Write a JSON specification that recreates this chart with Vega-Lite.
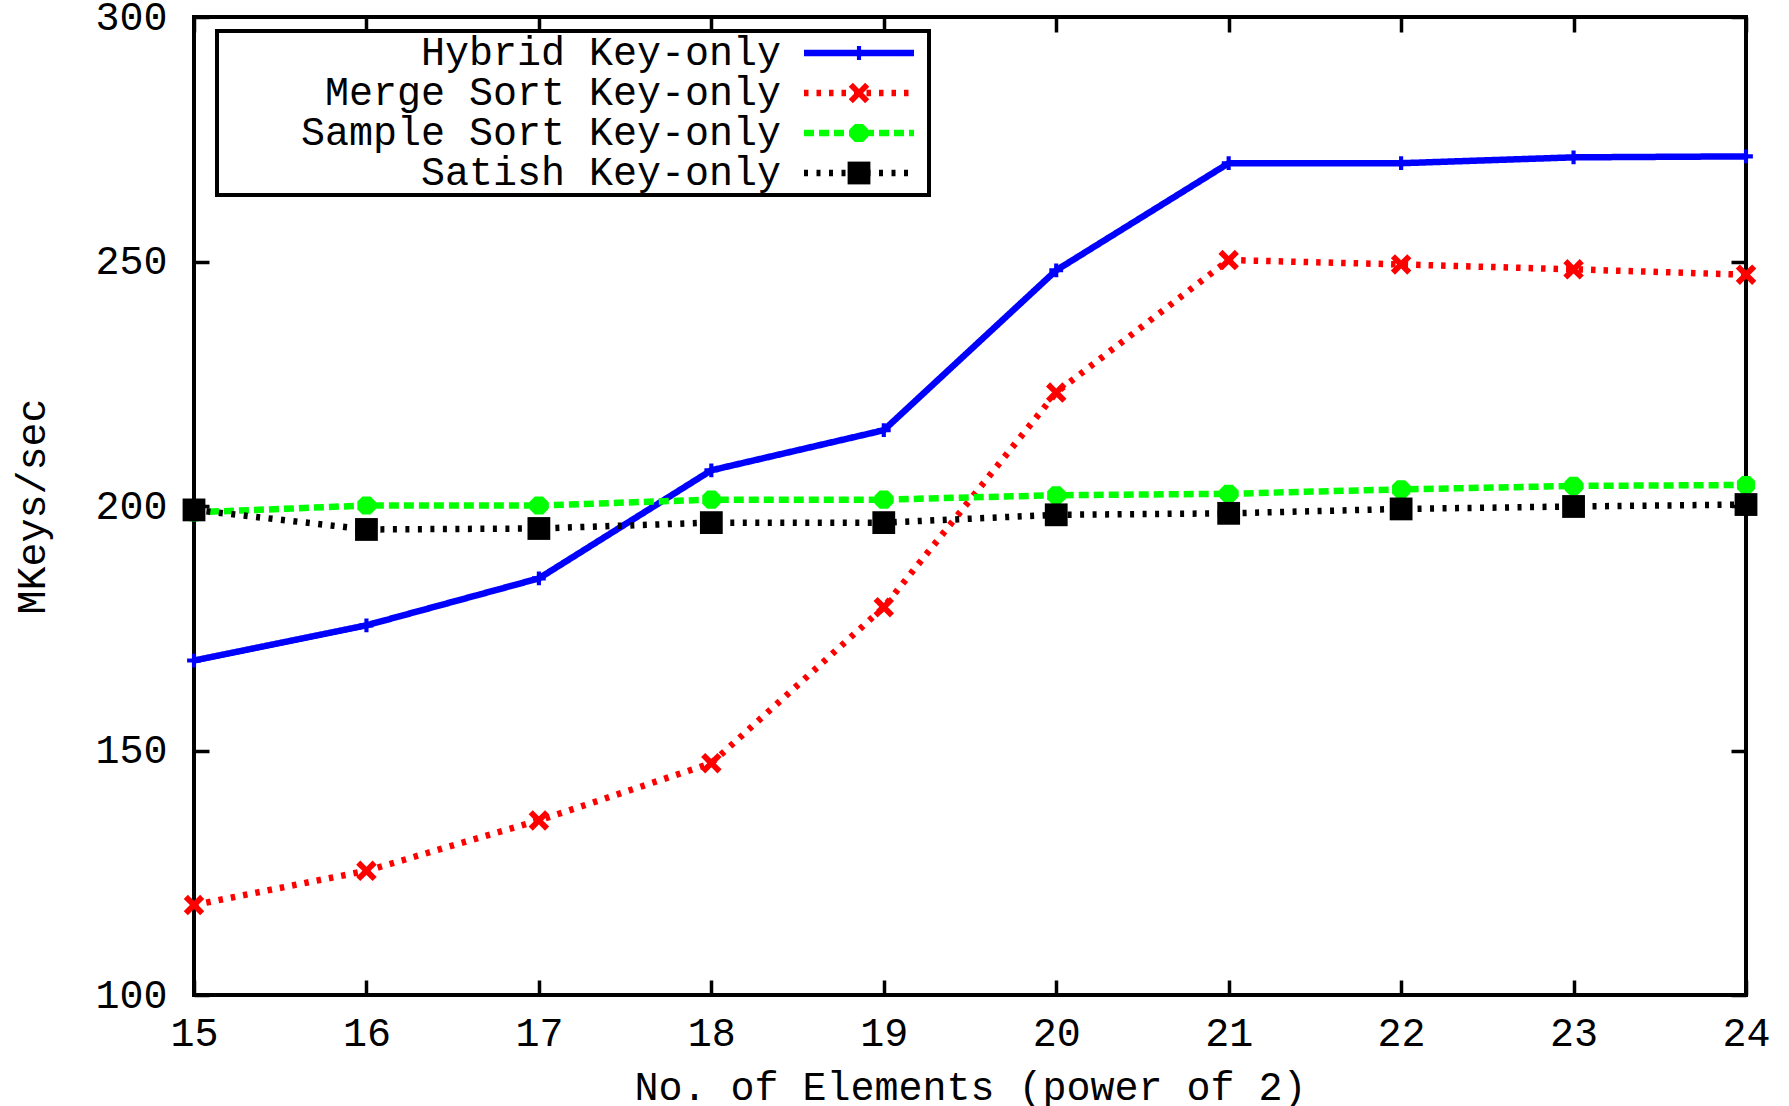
{
  "$schema": "https://vega.github.io/schema/vega-lite/v6.json",
  "width": 1552,
  "height": 978,
  "autosize": {"type": "none"},
  "padding": {"left": 194, "top": 17, "right": 43, "bottom": 111},
  "background": "white",
  "config": {
    "view": {"stroke": "black", "strokeWidth": 4},
    "font": "Liberation Mono",
    "axis": {"labelFont": "Liberation Mono", "titleFont": "Liberation Mono", "labelFontSize": 40, "titleFontSize": 40, "titleFontWeight": "normal", "labelColor": "black", "titleColor": "black", "grid": false, "domain": false, "tickColor": "black", "tickWidth": 3.5, "tickSize": -15, "labelFlush": false},
    "legend": {"labelFont": "Liberation Mono", "labelFontSize": 40, "labelColor": "black", "labelLimit": 0}
  },
  "data": {"values": [
    {"x": 15, "series": "Hybrid Key-only", "v": 168.4},
    {"x": 16, "series": "Hybrid Key-only", "v": 175.6},
    {"x": 17, "series": "Hybrid Key-only", "v": 185.2},
    {"x": 18, "series": "Hybrid Key-only", "v": 207.3},
    {"x": 19, "series": "Hybrid Key-only", "v": 215.5},
    {"x": 20, "series": "Hybrid Key-only", "v": 248.2},
    {"x": 21, "series": "Hybrid Key-only", "v": 270.1},
    {"x": 22, "series": "Hybrid Key-only", "v": 270.1},
    {"x": 23, "series": "Hybrid Key-only", "v": 271.3},
    {"x": 24, "series": "Hybrid Key-only", "v": 271.5},
    {"x": 15, "series": "Merge Sort Key-only", "v": 118.4},
    {"x": 16, "series": "Merge Sort Key-only", "v": 125.4},
    {"x": 17, "series": "Merge Sort Key-only", "v": 135.7},
    {"x": 18, "series": "Merge Sort Key-only", "v": 147.4},
    {"x": 19, "series": "Merge Sort Key-only", "v": 179.3},
    {"x": 20, "series": "Merge Sort Key-only", "v": 223.2},
    {"x": 21, "series": "Merge Sort Key-only", "v": 250.3},
    {"x": 22, "series": "Merge Sort Key-only", "v": 249.4},
    {"x": 23, "series": "Merge Sort Key-only", "v": 248.4},
    {"x": 24, "series": "Merge Sort Key-only", "v": 247.3},
    {"x": 15, "series": "Sample Sort Key-only", "v": 198.7},
    {"x": 16, "series": "Sample Sort Key-only", "v": 200.1},
    {"x": 17, "series": "Sample Sort Key-only", "v": 200.1},
    {"x": 18, "series": "Sample Sort Key-only", "v": 201.3},
    {"x": 19, "series": "Sample Sort Key-only", "v": 201.3},
    {"x": 20, "series": "Sample Sort Key-only", "v": 202.2},
    {"x": 21, "series": "Sample Sort Key-only", "v": 202.5},
    {"x": 22, "series": "Sample Sort Key-only", "v": 203.4},
    {"x": 23, "series": "Sample Sort Key-only", "v": 204.1},
    {"x": 24, "series": "Sample Sort Key-only", "v": 204.3},
    {"x": 15, "series": "Satish Key-only", "v": 199.2},
    {"x": 16, "series": "Satish Key-only", "v": 195.2},
    {"x": 17, "series": "Satish Key-only", "v": 195.4},
    {"x": 18, "series": "Satish Key-only", "v": 196.6},
    {"x": 19, "series": "Satish Key-only", "v": 196.6},
    {"x": 20, "series": "Satish Key-only", "v": 198.2},
    {"x": 21, "series": "Satish Key-only", "v": 198.5},
    {"x": 22, "series": "Satish Key-only", "v": 199.4},
    {"x": 23, "series": "Satish Key-only", "v": 199.9},
    {"x": 24, "series": "Satish Key-only", "v": 200.3}
  ]},
  "layer": [
    {
      "mark": {"type": "line", "strokeWidth": 6.5, "clip": false},
      "encoding": {
        "x": {"field": "x", "type": "quantitative", "scale": {"domain": [15, 24], "nice": false, "zero": false}, "axis": {"orient": "bottom", "title": "No. of Elements (power of 2)", "values": [15,16,17,18,19,20,21,22,23,24], "format": "d", "labelPadding": 33, "titlePadding": 14}},
        "y": {"field": "v", "type": "quantitative", "scale": {"domain": [100, 300], "nice": false, "zero": false}, "axis": {"orient": "left", "title": "MKeys/sec", "values": [100,150,200,250,300], "labelPadding": 42, "titlePadding": 42}},
        "color": {"field": "series", "type": "nominal", "sort": ["Hybrid Key-only", "Merge Sort Key-only", "Sample Sort Key-only", "Satish Key-only"], "scale": {"domain": ["Hybrid Key-only", "Merge Sort Key-only", "Sample Sort Key-only", "Satish Key-only"], "range": ["#0000ff", "#ff0000", "#00ff00", "#000000"]},
          "legend": {"title": null, "orient": "none", "legendX": 23, "legendY": 14, "zindex": 0, "symbolType": "M-5,0L5,0", "symbolSize": 484, "symbolStrokeWidth": 6.5, "labelAlign": "right", "labelOffset": -98, "symbolOffset": 620, "rowPadding": -13, "padding": 2, "strokeColor": "black", "fillColor": "white",
            "encode": {"legend": {"update": {"strokeWidth": {"value": 4}}}}}},
        "strokeDash": {"field": "series", "type": "nominal", "scale": {"domain": ["Hybrid Key-only", "Merge Sort Key-only", "Sample Sort Key-only", "Satish Key-only"], "range": [[1, 0], [4.5, 8], [10, 5], [4, 8.5]]}, "legend": {"title": null}}
      }
    },
    {
      "mark": {"type": "point", "filled": true, "opacity": 1, "clip": false, "strokeWidth": 0},
      "encoding": {
        "x": {"field": "x", "type": "quantitative", "axis": {"orient": "top", "title": null, "labels": false, "values": [15,16,17,18,19,20,21,22,23,24]}},
        "y": {"field": "v", "type": "quantitative", "axis": {"orient": "right", "title": null, "labels": false, "values": [100,150,200,250,300]}},
        "fill": {"field": "series", "type": "nominal", "scale": {"domain": ["Merge Sort Key-only", "Hybrid Key-only", "Sample Sort Key-only", "Satish Key-only"], "range": ["#ff0000", "#0000ff", "#00ff00", "#000000"]},
          "legend": {"title": null, "orient": "none", "legendX": 23, "legendY": 14, "zindex": 1, "values": ["Hybrid Key-only", "Merge Sort Key-only", "Sample Sort Key-only", "Satish Key-only"], "labelAlign": "left", "labelOffset": 40, "labelOpacity": 0, "symbolOffset": 620, "rowPadding": -13, "padding": 2, "symbolStrokeWidth": 0}},
        "shape": {"field": "series", "type": "nominal", "scale": {"domain": ["Merge Sort Key-only", "Hybrid Key-only", "Sample Sort Key-only", "Satish Key-only"], "range": ["M-1,-0.6L-0.6,-1L0,-0.4L0.6,-1L1,-0.6L0.4,0L1,0.6L0.6,1L0,0.4L-0.6,1L-1,0.6L-0.4,0Z", "M-1,-0.3L-0.3,-0.3L-0.3,-1L0.3,-1L0.3,-0.3L1,-0.3L1,0.3L0.3,0.3L0.3,1L-0.3,1L-0.3,0.3L-1,0.3Z", "M-0.45,-1L0.45,-1L1,-0.45L1,0.45L0.45,1L-0.45,1L-1,0.45L-1,-0.45Z", "square"]},
          "legend": {"title": null, "orient": "none", "legendX": 23, "legendY": 14, "zindex": 1, "values": ["Hybrid Key-only", "Merge Sort Key-only", "Sample Sort Key-only", "Satish Key-only"], "labelAlign": "left", "labelOffset": 40, "labelOpacity": 0, "symbolOffset": 620, "rowPadding": -13, "padding": 2, "symbolStrokeWidth": 0}},
        "size": {"field": "series", "type": "nominal", "scale": {"type": "ordinal", "domain": ["Merge Sort Key-only", "Hybrid Key-only", "Sample Sort Key-only", "Satish Key-only"], "range": [420, 190, 330, 520]},
          "legend": {"title": null, "orient": "none", "legendX": 23, "legendY": 14, "zindex": 1, "values": ["Hybrid Key-only", "Merge Sort Key-only", "Sample Sort Key-only", "Satish Key-only"], "labelAlign": "left", "labelOffset": 40, "labelOpacity": 0, "symbolOffset": 620, "rowPadding": -13, "padding": 2, "symbolStrokeWidth": 0}}
      }
    }
  ],
  "resolve": {"axis": {"x": "independent", "y": "independent"}}
}
